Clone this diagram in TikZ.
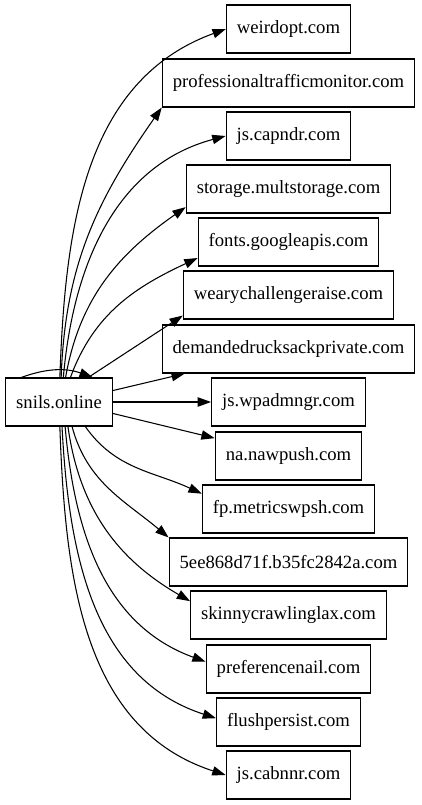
\documentclass[tikz,border=0pt]{standalone}
\usepackage{fontspec}
\setmainfont{Liberation Serif}
\usetikzlibrary{arrows.meta}
\tikzset{
    host map/.style = {>={Triangle[length=10pt, width=7pt]}, x=0.75pt, y=0.75pt},
    host/.style     = {draw, line width=0.8pt, font=\fontsize{14}{16}\selectfont,
                       minimum height=36pt, minimum width=54pt, inner xsep=7.9pt},
    link/.style     = {->, line width=0.8pt}
}
\begin{document}
\begin{tikzpicture}[host map]
\useasboundingbox (0,0) rectangle (421,-805);

% ================= Source =================
\node[host] (snils) at (59,-402) {snils.online};

% ================= Contacted hosts (one column) =================
\node[host] (weirdopt)  at (288.5, -29) {weirdopt.com};
\node[host] (ptm)       at (288.5, -83) {professionaltrafficmonitor.com};
\node[host] (capndr)    at (288.5,-136) {js.capndr.com};
\node[host] (storage)   at (288.5,-189) {storage.multstorage.com};
\node[host] (fonts)     at (288.5,-242) {fonts.googleapis.com};
\node[host] (weary)     at (288.5,-295) {wearychallengeraise.com};
\node[host] (demanded)  at (288.5,-349) {demandedrucksackprivate.com};
\node[host] (wpadmngr)  at (288.5,-402) {js.wpadmngr.com};
\node[host] (nawpush)   at (288.5,-456) {na.nawpush.com};
\node[host] (metrics)   at (288.5,-509) {fp.metricswpsh.com};
\node[host] (hexhost)   at (288.5,-562) {5ee868d71f.b35fc2842a.com};
\node[host] (skinny)    at (288.5,-615) {skinnycrawlinglax.com};
\node[host] (prefnail)  at (288.5,-669) {preferencenail.com};
\node[host] (flush)     at (288.5,-722) {flushpersist.com};
\node[host] (cabnnr)    at (288.5,-775) {js.cabnnr.com};

% ================= Upper fan =================
\draw[link] (snils.88) to[out=88, in=200] (weirdopt.west);
\draw[link] (snils.85) to[out=88, in=235] (ptm.south west);
\draw[link] (snils.80) to[out=85, in=195] (capndr.west);
\draw[link] (snils.75) to[out=80, in=215] (storage.190);
\draw[link] (snils.65) to[out=70, in=205] (fonts.190);
\draw[link] (snils.40) -- (weary.191);
\draw[link] (snils.12) -- (demanded);

% ================= Straight / lower fan =================
\draw[link] (snils) -- (wpadmngr);
\draw[link] (snils.-12) -- (nawpush);
\draw[link] (snils.-43) to[out=-55, in=155] (metrics.170);
\draw[link] (snils.-62) to[out=-75, in=140] (hexhost.north west);
\draw[link] (snils.-70) to[out=-82, in=150] (skinny.172);
\draw[link] (snils.-76) to[out=-85, in=160] (prefnail.175);
\draw[link] (snils.-83) to[out=-87, in=162] (flush.177);
\draw[link] (snils.-88) to[out=-88, in=162] (cabnnr.west);

% ================= Self loop =================
\draw[link] (snils.147) to[out=20, in=160] (snils.36);

\end{tikzpicture}
\end{document}
